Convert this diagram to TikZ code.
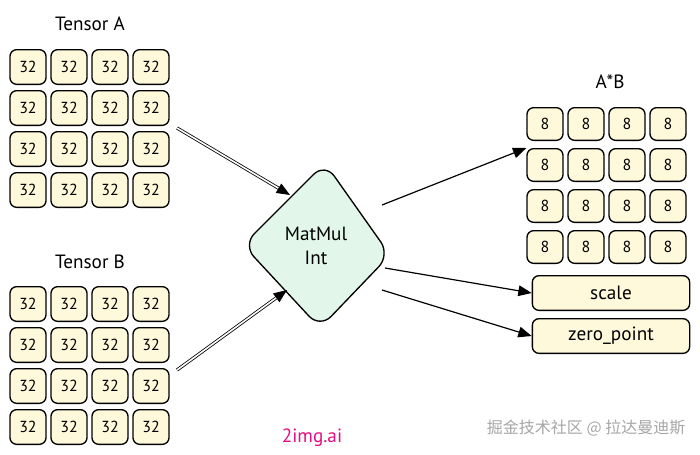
\documentclass[tikz,border=0pt]{standalone}
\usepackage{fontspec}
\setmainfont{PT Sans}
\newfontfamily\cjk{Noto Sans CJK SC}
\usetikzlibrary{arrows.meta}
\definecolor{cellfill}{HTML}{FFF9DB}
\definecolor{dfill}{HTML}{E3F6EA}
\begin{document}
\begin{tikzpicture}[x=0.75pt,y=-0.75pt,
  cell/.style={draw=black,line width=1pt,rounded corners=5pt,fill=cellfill,minimum width=27pt,minimum height=26pt,inner sep=0pt,font=\large},
  smallcell/.style={cell,minimum height=24.5pt},
  box/.style={draw=black,line width=1pt,rounded corners=5pt,fill=cellfill,minimum width=118pt,minimum height=26pt,inner sep=0pt,font=\Large},
  arr/.style={-{Triangle[length=10pt,width=8pt]},line width=0.9pt},
  darr/.style={double,double distance=1.2pt,line width=0.6pt,-{Triangle[length=10pt,width=8pt]}},
  lbl/.style={font=\Large}]
\useasboundingbox (0,0) rectangle (700,454);
\node[lbl] (ta) at (90,24) {Tensor A};
\node[lbl] (tb) at (90,262) {Tensor B};
\node[lbl] (ab) at (610,82) {A*B};
\foreach \r in {0,1,2,3}{
  \foreach \c in {0,1,2,3}{
    \node[cell] (a\r\c) at (28+41*\c,67+41*\r) {32};
    \node[cell] (b\r\c) at (28+41*\c,304+41*\r) {32};
    \node[smallcell] (p\r\c) at (545+41*\c,124+41*\r) {8};
  }}
\draw[line width=1pt,fill=dfill,rounded corners=12pt] (243,245) -- (325,163) -- (390,255) -- (320,328) -- cycle;
\node[font=\Large,align=center] (mm) at (316,246) {MatMul\\Int};
\node[box] (sc) at (611,293) {scale};
\node[box] (zp) at (611,336) {zero\_point};
\coordinate (s1) at (177,128);
\coordinate (e1) at (290,195);
\coordinate (s2) at (177,370);
\coordinate (e2) at (287,290);
\coordinate (o1) at (382,205);
\coordinate (o2) at (385,268);
\coordinate (o3) at (382,290);
\draw[darr] (s1) -- (e1);
\draw[darr] (s2) -- (e2);
\draw[arr] (o1) -- (p10.north west);
\draw[arr] (o2) -- (sc.west);
\draw[arr] (o3) -- (zp.west);
\node[text=gray!70,font=\cjk\large,anchor=east] (wm) at (690,428) {掘金技术社区 @ 拉达曼迪斯};
\node[text=magenta!80!purple,font=\Large] (wm2) at (312,438) {2img.ai};
\end{tikzpicture}
\end{document}
